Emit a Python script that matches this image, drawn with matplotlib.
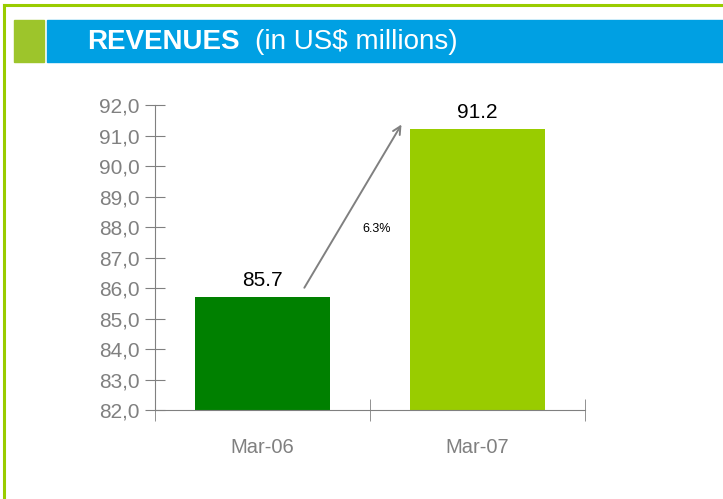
import matplotlib.pyplot as plt
from matplotlib.patches import Rectangle
from matplotlib.lines import Line2D

# data
periods = ['Mar-06', 'Mar-07']
revenues = [85.7, 91.2]
bar_colors = ['#008000', '#99CC00']
growth_label = '6.3%'

plt.rcParams['font.family'] = ['Liberation Sans', 'DejaVu Sans']

fig = plt.figure(figsize=(7.23, 4.99), dpi=100)
W, H = 723, 499

def px(x, y, w, h):
    return (x / W, 1 - (y + h) / H, w / W, h / H)

# frame lines (green border top and left)
fig.add_artist(Line2D([4 / W, 1], [1 - 5 / H, 1 - 5 / H], color='#99CC00', lw=2.2, transform=fig.transFigure))
fig.add_artist(Line2D([4 / W, 4 / W], [0, 1 - 5 / H], color='#99CC00', lw=2.2, transform=fig.transFigure))

# title bar
x0, y0, w0, h0 = px(14, 20, 30, 42)
fig.add_artist(Rectangle((x0, y0), w0, h0, color='#9DC52B', transform=fig.transFigure))
x1, y1, w1, h1 = px(47, 20, 676, 42)
fig.add_artist(Rectangle((x1, y1), w1, h1, color='#00A0E3', transform=fig.transFigure))
fig.text(87 / W, 1 - 42 / H, 'REVENUES', color='white', fontsize=20, fontweight='bold', va='center', ha='left')
fig.text(255 / W, 1 - 42 / H, '(in US$ millions)', color='white', fontsize=20, va='center', ha='left')

ax = fig.add_axes(px(155, 105, 430, 305))
xpos = [0.5, 1.5]
ax.bar(xpos, [v - 82 for v in revenues], bottom=82, width=0.63, color=bar_colors)
ax.set_xlim(0, 2)
ax.set_ylim(82, 92)

for x, v in zip(xpos, revenues):
    ax.text(x, v + 0.25, f'{v:.1f}', ha='center', va='bottom', fontsize=15, color='black')

ax.annotate('', xy=(1.153, 91.44), xytext=(0.688, 85.93),
            arrowprops=dict(arrowstyle='->', color='#808080', lw=1.4, mutation_scale=14))
ax.text(1.033, 87.93, growth_label, ha='center', va='center', fontsize=9)

for s in ['top', 'right']:
    ax.spines[s].set_visible(False)
ax.spines['left'].set_color('#808080')
ax.spines['bottom'].set_color('#808080')

yt = list(range(82, 93))
ax.set_yticks(yt)
ax.set_yticklabels([f'{t},0' for t in yt], color='#808080', fontsize=15)
ax.tick_params(axis='y', direction='inout', length=14, color='#808080', pad=4)
ax.set_xticks([0, 1, 2], minor=True)
ax.set_xticks(xpos)
ax.set_xticklabels(periods, color='#808080', fontsize=14.5)
ax.tick_params(axis='x', which='major', length=0, pad=20)
ax.tick_params(axis='x', which='minor', direction='inout', length=16, color='#808080')

fig.savefig('out.png', dpi=100)
